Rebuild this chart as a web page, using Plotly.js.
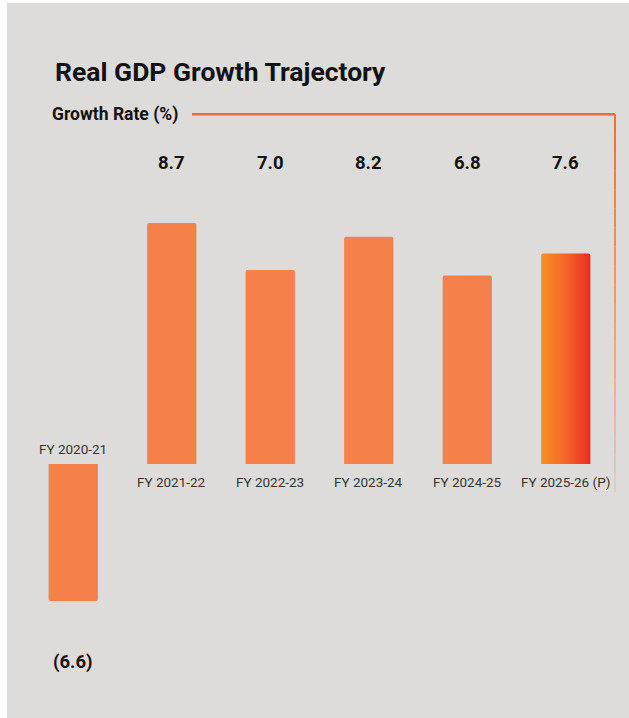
<!DOCTYPE html>
<html>
<head>
<meta charset="utf-8">
<script src="https://cdn.plot.ly/plotly-3.0.1.min.js"></script>
<style>
  html, body { margin: 0; padding: 0; background: #ffffff; }
  #chart { position: absolute; left: 7px; top: 3px; width: 622px; height: 715px; }
</style>
</head>
<body>
<div id="chart"></div>
<script>
// ---- data ----
const categories = ["FY 2020-21", "FY 2021-22", "FY 2022-23", "FY 2023-24", "FY 2024-25", "FY 2025-26 (P)"];
const growthValues = [-6.6, 8.7, 7.0, 8.2, 6.8, 7.6];
const chartTitle = "Real GDP Growth Trajectory";
const axisLabel = "Growth Rate (%)";

const barColor = "#f5804a";
const lineColor = "#f26a2b";
const bgColor = "#dedcda";

const negCats = [], negVals = [], posCats = [], posVals = [];
categories.forEach((c, i) => {
  if (growthValues[i] < 0) { negCats.push(c); negVals.push(growthValues[i]); }
  else { posCats.push(c); posVals.push(growthValues[i]); }
});

const fmt = v => v < 0 ? "(" + Math.abs(v).toFixed(1) + ")" : v.toFixed(1);

const traces = [
  { type: "bar", x: negCats, y: negVals, yaxis: "y2", width: 0.5,
    marker: { color: barColor }, hoverinfo: "none" },
  { type: "bar", x: posCats, y: posVals, yaxis: "y", width: 0.5,
    marker: { color: barColor }, hoverinfo: "none" }
];

const annotations = [];
categories.forEach((c, i) => {
  const v = growthValues[i];
  annotations.push({
    x: c, xref: "x", y: v < 0 ? 0.0475 : 0.893, yref: "paper",
    text: "<b>" + fmt(v) + "</b>", showarrow: false,
    font: { family: "Roboto", size: 18.5, color: "#111111" },
    xanchor: "center", yanchor: "middle"
  });
  annotations.push({
    x: c, xref: "x", y: 0, yref: v < 0 ? "y2" : "y",
    text: c, showarrow: false,
    font: { family: "Roboto", size: 13.5, color: "#333333" },
    xanchor: "center", yanchor: v < 0 ? "bottom" : "top",
    yshift: v < 0 ? 5 : -8
  });
});
annotations.push({
  x: 0.044, xref: "paper", y: 0.976, yref: "paper",
  text: "<b>" + axisLabel + "</b>", showarrow: false,
  font: { family: "Roboto", size: 17.5, color: "#111111" },
  xanchor: "left", yanchor: "middle"
});

// decorative bracket line
const shapes = [
  { type: "line", xref: "paper", yref: "paper", x0: 0.2843, x1: 1.0, y0: 0.976, y1: 0.976,
    line: { color: lineColor, width: 2.5 } }
];
const segN = 20, yTop = 0.976, yBot = 0.3356;
for (let k = 0; k < segN; k++) {
  const a = yTop - (yTop - yBot) * k / segN;
  const b = yTop - (yTop - yBot) * (k + 1) / segN;
  shapes.push({ type: "line", xref: "paper", yref: "paper", x0: 1.0, x1: 1.0, y0: a, y1: b,
    opacity: 0.95 - 0.8 * k / (segN - 1), line: { color: lineColor, width: 2 } });
}

const layout = {
  width: 622, height: 715,
  margin: { l: 17, r: 14, t: 97, b: 28 },
  paper_bgcolor: bgColor, plot_bgcolor: bgColor,
  showlegend: false,
  barmode: "overlay",
  barcornerradius: 2,
  title: {
    text: "<b>" + chartTitle + "</b>",
    x: 0.0772, xref: "container", xanchor: "left",
    y: 0.9035, yref: "container", yanchor: "middle",
    font: { family: "Roboto", size: 26.5, color: "#111111" }
  },
  xaxis: { type: "category", categoryarray: categories, categoryorder: "array",
    range: [-0.5, 5.5], showticklabels: false, showgrid: false, zeroline: false,
    showline: false, ticks: "" },
  yaxis: { range: [-8.159, 13.14], visible: false, showgrid: false, zeroline: false },
  yaxis2: { range: [-10.886, 17.534], overlaying: "y", visible: false,
    showgrid: false, zeroline: false },
  annotations: annotations,
  shapes: shapes
};

function applyGradient() {
  const gd = document.getElementById("chart");
  const svg = gd.querySelector("svg.main-svg");
  if (!svg) return;
  const ns = "http://www.w3.org/2000/svg";
  let defs = svg.querySelector("defs");
  if (!defs) { defs = document.createElementNS(ns, "defs"); svg.insertBefore(defs, svg.firstChild); }
  if (!svg.querySelector("#projGrad")) {
    const lg = document.createElementNS(ns, "linearGradient");
    lg.setAttribute("id", "projGrad");
    lg.setAttribute("x1", "0"); lg.setAttribute("y1", "0");
    lg.setAttribute("x2", "1"); lg.setAttribute("y2", "0");
    [["0%", "#f7901f"], ["55%", "#f2622a"], ["100%", "#ed2a24"]].forEach(s => {
      const st = document.createElementNS(ns, "stop");
      st.setAttribute("offset", s[0]); st.setAttribute("stop-color", s[1]);
      lg.appendChild(st);
    });
    defs.appendChild(lg);
  }
  const projected = categories[categories.length - 1];
  gd.querySelectorAll(".barlayer .trace").forEach(tr => {
    const cd = tr.__data__;
    if (!cd || !cd[0] || !cd[0].trace || cd[0].trace.index !== 1) return;
    const pts = tr.querySelectorAll(".point");
    pts.forEach(p => {
      const d = p.__data__;
      const path = p.querySelector("path") || p;
      const isLast = d && d.p !== undefined
        ? (gd._fullLayout.xaxis._categories[d.p] === projected)
        : false;
      if (isLast) path.style.fill = "url(#projGrad)";
    });
  });
}

Plotly.newPlot("chart", traces, layout, { staticPlot: true, displayModeBar: false })
  .then(applyGradient);
</script>
</body>
</html>
